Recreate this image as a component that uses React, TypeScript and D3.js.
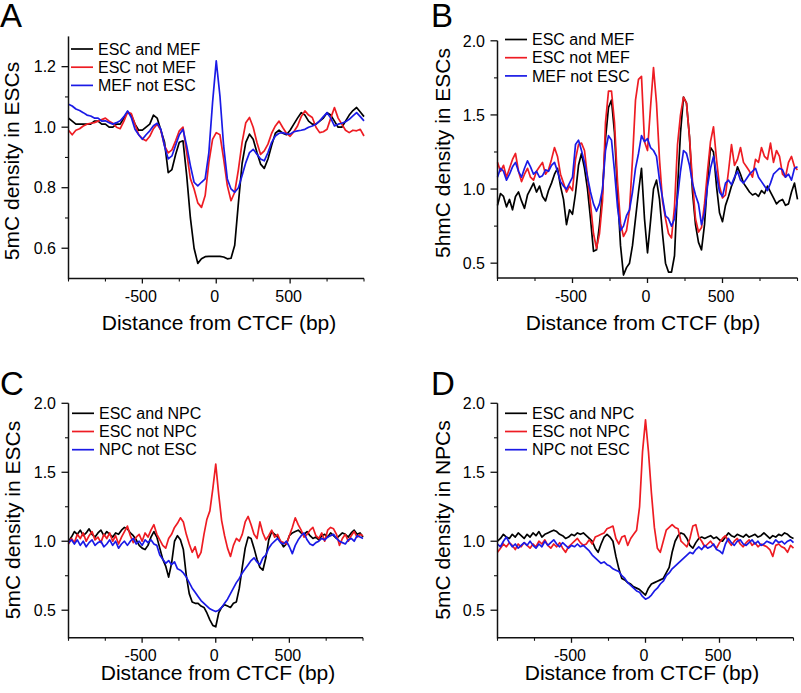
import React from "react";
import * as d3 from "d3";

// ---------- DATA ----------
const bpA = d3.range(-1000, 1001, 25);
const bpBCD = d3.range(-1000, 1001, 20);

const xMajorTicks = [-500, 0, 500];
const xMinorTicks = [-1000, -750, -250, 250, 750, 1000];

const legendMEF = ["ESC and MEF", "ESC not MEF", "MEF not ESC"];
const legendNPC = ["ESC and NPC", "ESC not NPC", "NPC not ESC"];

// Panel A: 5mC density in ESCs (ESC vs MEF)
const aBoth = [
  1.03, 1.02, 1.01, 1.01, 1.01, 1.01, 1.01, 1.02, 1.02, 1.01, 1.01, 1.0, 1.0, 1.01, 1.01, 1.03, 1.05, 1.04, 1.01, 0.99,
  0.99, 1.0, 1.01, 1.04, 1.03, 0.99, 0.95, 0.85, 0.86, 0.91, 0.95, 0.955, 0.84, 0.7, 0.6, 0.55, 0.565, 0.572, 0.573, 0.573,
  0.573, 0.573, 0.571, 0.565, 0.567, 0.61, 0.75, 0.88, 0.95, 0.977, 0.96, 0.917, 0.878, 0.864, 0.895, 0.94, 0.98, 0.99, 0.98, 0.975,
  0.99, 1.01, 1.03, 1.048, 1.04, 1.02, 1.01, 1.01, 1.02, 1.03, 1.048, 1.04, 1.02, 1.0, 1.0, 1.02, 1.04, 1.055, 1.065, 1.05,
  1.035,
];
const aEscOnly = [
  0.99, 0.975, 0.99, 0.995, 1.004, 1.01, 1.013, 1.015, 1.02, 1.025, 1.03, 1.02, 1.013, 1.0, 0.995, 1.02, 1.05, 1.045, 1.01, 0.975,
  0.962, 0.955, 0.97, 0.995, 1.01, 0.99, 0.938, 0.915, 0.925, 0.955, 0.988, 1.0, 0.916, 0.83, 0.796, 0.75, 0.735, 0.774, 0.884, 0.96,
  0.982, 0.975, 0.895, 0.807, 0.757, 0.785, 0.86, 0.95, 1.015, 1.032, 1.0, 0.95, 0.91, 0.922, 0.944, 0.98, 1.004, 1.02, 0.999, 0.98,
  0.97, 0.985, 1.004, 1.035, 1.054, 1.04, 1.032, 1.0, 0.982, 0.985, 0.993, 1.03, 1.065, 1.03, 1.01, 0.99, 0.982, 0.99, 0.988, 0.993,
  0.971,
];
const aMefOnly = [
  1.076, 1.07, 1.06, 1.055, 1.048, 1.04, 1.037, 1.03, 1.03, 1.02, 1.021, 1.015, 1.01, 1.015, 1.021, 1.035, 1.054, 1.032, 0.993, 0.975,
  0.96, 0.975, 0.988, 1.005, 1.013, 0.993, 0.938, 0.895, 0.905, 0.94, 0.975, 0.993, 0.938, 0.873, 0.818, 0.806, 0.818, 0.829, 0.916, 1.081,
  1.219, 1.103, 0.938, 0.829, 0.796, 0.785, 0.8, 0.84, 0.883, 0.916, 0.927, 0.911, 0.895, 0.889, 0.916, 0.95, 0.971, 0.98, 0.982, 0.978,
  0.977, 0.985, 0.988, 0.99, 0.993, 1.0, 1.004, 1.01, 1.021, 1.035, 1.048, 1.03, 1.004, 1.01, 1.013, 1.018, 1.026, 1.037, 1.048, 1.035,
  1.021,
];

// Panel B: 5hmC density in ESCs (ESC vs MEF)
const bBoth = [
  0.89, 0.97, 0.95, 0.88, 0.93, 0.86, 0.95, 0.98, 0.92, 0.87, 0.96, 1.0, 1.04, 0.98, 1.02, 0.95, 0.92, 0.99, 1.04, 1.1,
  1.14, 1.02, 0.93, 0.76, 0.86, 0.83, 0.97, 1.16, 1.24, 1.14, 1.0, 0.8, 0.58, 0.59, 0.76, 0.98, 1.34, 1.55, 1.6, 1.38,
  0.98, 0.62, 0.42, 0.47, 0.5, 0.62, 0.8, 0.98, 1.14, 0.8, 0.57, 0.78, 1.0, 1.06, 0.93, 0.7, 0.5, 0.44, 0.44, 0.55,
  1.0, 1.38, 1.62, 1.58, 1.35, 0.98, 0.76, 0.64, 0.59, 0.76, 1.05, 1.28, 1.25, 1.02, 0.84, 0.78, 0.89, 0.95, 1.02, 1.07,
  1.15, 1.1, 1.04, 1.01, 0.98, 0.96, 0.97, 0.95, 0.99, 0.97, 1.02, 0.98, 0.94, 0.9, 0.92, 0.93, 0.89, 0.9, 0.98, 1.04,
  0.93,
];
const bEscOnly = [
  1.18, 1.12, 1.16, 1.08, 1.14, 1.2, 1.24, 1.12, 1.05, 1.1, 1.14, 1.08, 1.06, 1.12, 1.15, 1.18, 1.1, 1.13, 1.2, 1.28,
  1.22, 1.1, 1.04, 0.98, 1.02, 0.99, 1.2, 1.3, 1.31, 1.26, 1.08, 0.9, 0.7, 0.6, 0.7, 0.92, 1.45, 1.66, 1.66, 1.45,
  1.05, 0.77, 0.68, 0.72, 0.86, 1.2, 1.6, 1.74, 1.76, 1.32, 1.26, 1.55, 1.82, 1.58, 1.2, 0.92, 0.8, 0.7, 0.67, 0.88,
  1.3, 1.5, 1.62, 1.58, 1.35, 1.05, 0.8, 0.71, 0.74, 0.9, 1.12, 1.32, 1.42, 1.2, 1.02, 0.94, 0.96, 1.12, 1.3, 1.16,
  1.2, 1.28, 1.18, 1.15, 1.12, 1.08, 1.2, 1.18, 1.28, 1.22, 1.2, 1.31, 1.18, 1.26, 1.22, 1.1, 1.08, 1.18, 1.22, 1.15,
  1.13,
];
const bMefOnly = [
  1.08, 1.14, 1.12, 1.06, 1.1, 1.15, 1.18, 1.12, 1.08, 1.14, 1.19, 1.15, 1.1, 1.12, 1.08, 1.09, 1.13, 1.12, 1.16, 1.18,
  1.12, 1.05, 1.02, 1.0, 1.04, 1.08, 1.3, 1.33, 1.26, 1.18, 1.08, 0.98, 0.9, 0.85, 0.9, 1.0, 1.26, 1.36, 1.33, 1.12,
  0.88, 0.72, 0.75, 0.82, 0.86, 0.98, 1.14, 1.24, 1.36, 1.32, 1.34, 1.28, 1.26, 1.22, 1.06, 0.94, 0.82, 0.8, 0.75, 0.8,
  0.94, 1.12, 1.26, 1.24, 1.16, 1.04, 0.96, 0.9, 0.76, 0.84, 1.02, 1.14, 1.22, 1.1, 0.98, 0.95, 1.04, 1.06, 1.03, 1.08,
  1.12, 1.06, 1.04, 1.07, 1.1, 1.12, 1.14, 1.08, 1.05, 1.02, 0.99, 1.04, 1.1, 1.12, 1.14, 1.13, 1.08, 1.1, 1.06, 1.14,
  1.15,
];

// Panel C: 5mC density in ESCs (ESC vs NPC)
const cBoth = [
  1.0, 1.03, 1.07, 1.05, 1.08, 1.04, 1.06, 1.09, 1.05, 1.03, 1.06, 1.08, 1.04, 1.07, 1.05, 1.03, 1.06, 1.05, 1.08, 1.1,
  1.09, 1.06, 1.04, 1.01, 0.97, 0.95, 0.94, 0.97, 1.03, 1.07, 1.03, 0.95, 0.87, 0.82, 0.74, 0.84, 1.0, 1.04, 1.01, 0.94,
  0.75, 0.62, 0.56, 0.55, 0.55, 0.53, 0.52, 0.48, 0.43, 0.39, 0.38, 0.48, 0.52, 0.54, 0.53, 0.52, 0.55, 0.56, 0.66, 0.81,
  0.95, 1.03, 1.02, 0.95, 0.87, 0.81, 0.79, 0.88, 1.01, 1.07, 1.05, 1.03, 1.0, 0.96, 0.98, 1.04, 1.06, 1.07, 1.08, 1.06,
  1.05, 1.07, 1.04, 1.02, 1.03, 1.01, 1.04, 1.05, 1.03, 1.06, 1.04, 1.02, 1.04, 1.06, 1.05, 1.03, 1.06, 1.08, 1.05, 1.06,
  1.03,
];
const cEscOnly = [
  0.98, 1.02, 0.99, 1.05, 1.02, 1.06, 1.0, 1.04, 1.07, 1.01, 1.03, 0.99, 1.05, 1.02, 1.06, 1.0, 1.04, 0.98, 1.03, 1.07,
  1.11, 1.04, 0.99, 1.03, 1.05, 1.0, 1.06, 1.03, 1.08, 1.12, 1.05, 1.01, 0.97, 0.95, 1.02, 1.05, 1.1, 1.13, 1.17, 1.14,
  1.05, 0.98, 0.92, 0.96, 0.88, 0.92, 1.05, 1.16, 1.22, 1.38, 1.56, 1.34, 1.15, 1.04, 0.95, 0.89, 0.97, 1.02, 1.0, 1.05,
  1.14, 1.18, 1.12, 1.05, 1.02, 1.14, 1.06, 1.01, 1.04, 1.08, 1.03, 1.05, 1.0, 0.99, 0.98, 1.04, 1.1, 1.17, 1.12, 1.08,
  1.03, 1.05, 1.08, 1.1, 1.04, 1.02, 1.06, 1.0, 1.08, 1.1, 1.09, 1.05, 0.97, 1.02, 1.05, 1.0, 1.04, 1.07, 1.03, 1.05,
  1.04,
];
const cNpcOnly = [
  0.99, 1.01, 0.98, 1.01, 0.97, 1.0, 0.96, 0.99, 1.01, 0.97, 0.99, 1.0, 0.96, 0.98, 1.01, 0.97, 1.0, 0.95, 0.98, 1.0,
  0.97, 1.0, 1.02, 0.98, 1.0, 0.97, 1.01, 0.99, 1.01, 0.98, 0.97, 0.9, 0.87, 0.84, 0.86, 0.83, 0.85, 0.8, 0.79, 0.77,
  0.74, 0.7, 0.66, 0.63, 0.6, 0.57, 0.55, 0.53, 0.51, 0.5, 0.49, 0.5, 0.52, 0.55, 0.58, 0.62, 0.66, 0.7, 0.73, 0.77,
  0.8, 0.83, 0.86, 0.88, 0.85, 0.83, 0.88, 0.9, 0.95, 0.98, 1.0, 1.02, 0.99, 0.98, 1.0, 0.96, 0.91, 0.97, 1.01, 1.04,
  1.06, 1.01, 0.98, 0.97, 0.99, 1.0, 1.02, 1.01, 1.03, 1.04, 1.05, 1.02, 1.0, 0.99, 0.98, 1.01, 1.02, 1.0, 1.04, 1.03,
  1.02,
];

// Panel D: 5mC density in NPCs (ESC vs NPC)
const dBoth = [
  1.0, 1.02, 1.05, 1.03, 1.02, 1.05, 1.03, 1.06, 1.04, 1.02, 1.05, 1.03, 1.06, 1.04, 1.07, 1.03, 1.05, 1.06, 1.07, 1.08,
  1.07, 1.05, 1.04, 1.02, 1.03, 1.05, 1.04, 1.06, 1.05, 1.06, 1.04, 1.02, 1.0, 0.95, 0.92, 0.98, 1.03, 1.05, 1.03, 1.0,
  0.89, 0.8, 0.73, 0.72, 0.7, 0.69, 0.67, 0.66, 0.65, 0.63, 0.61, 0.66, 0.69, 0.7, 0.71, 0.72, 0.73, 0.77, 0.81, 0.92,
  1.0, 1.04, 1.06, 1.05, 1.02, 0.97, 0.95, 0.99, 1.02, 1.03, 1.02, 1.03, 1.04, 1.02, 1.03, 1.01, 1.0, 1.03, 1.06, 1.04,
  1.03, 1.05, 1.04, 1.03, 1.05, 1.03, 1.04, 1.05, 1.03, 1.04, 1.06, 1.04, 1.02, 1.04, 1.03, 1.05, 1.04, 1.06, 1.05, 1.03,
  1.02,
];
const dEscOnly = [
  0.92, 0.95, 0.98, 0.96, 0.99, 0.97, 0.94, 0.98, 0.96, 0.99, 0.97, 0.95, 0.98, 0.96, 1.0, 0.98, 1.01, 0.97, 0.95, 0.98,
  0.96, 0.99, 0.95, 0.92, 0.96, 0.98, 1.0, 1.02, 0.99, 0.97, 0.98, 1.01, 0.98, 1.03, 1.04, 1.05, 1.06, 1.09, 1.1, 1.11,
  1.02, 0.98, 1.03, 1.04, 0.97, 1.02, 1.05, 1.08, 1.25, 1.65, 1.88, 1.65, 1.35, 1.1, 0.95, 0.92, 1.0, 1.08, 1.1, 1.12,
  1.1, 1.09, 1.0, 0.98, 0.96, 1.02, 1.11, 1.12, 1.03, 1.0, 0.96, 0.98, 1.0, 0.97, 0.95, 0.99, 1.02, 1.04, 1.0, 0.97,
  1.0, 1.02, 0.98, 0.96, 0.99, 1.01, 0.97, 0.99, 0.96, 0.98, 0.97, 0.96, 0.94, 0.89, 0.97, 0.98, 0.96, 0.95, 0.92, 0.97,
  0.95,
];
const dNpcOnly = [
  0.98, 0.96, 1.0, 1.03, 0.99, 0.96, 0.98, 0.95, 0.97, 0.99, 0.97, 1.0, 0.97, 0.95, 0.98, 0.96, 1.0, 0.97, 0.99, 1.01,
  0.98, 0.96, 0.99, 0.97, 0.95, 0.97, 0.96, 0.98, 0.96, 0.97, 0.95, 0.93, 0.9, 0.88, 0.86, 0.84, 0.85, 0.83, 0.82, 0.8,
  0.79, 0.78, 0.75, 0.73, 0.7, 0.68, 0.66, 0.64, 0.63, 0.6, 0.58, 0.59, 0.61, 0.64, 0.66, 0.69, 0.71, 0.75, 0.77, 0.8,
  0.82, 0.84, 0.86, 0.88, 0.9, 0.92, 0.91, 0.94, 0.96, 0.94, 0.97, 0.95, 0.96, 0.98, 0.94, 0.93, 0.91, 0.98, 1.02, 0.99,
  0.97, 1.0, 1.01, 0.98, 0.97, 0.99, 1.01, 0.98, 1.0, 0.97, 0.98, 1.0, 0.99, 0.98, 1.01, 0.99, 1.0, 0.98, 1.0, 1.01,
  0.99,
];

// ---------- LAYOUT / STYLE ----------
const FONT = "'Liberation Sans', Arial, Helvetica, sans-serif";
const COLORS = ["#000000", "#ee1c23", "#1a1ae6"];

type PanelDef = {
  letter: string;
  letterX: number;
  letterY: number;
  bp: number[];
  series: number[][];
  legend: string[];
  yDomain: [number, number];
  yMajor: number[];
  yMinor: number[];
  yLabel: string;
  left: number;
  right: number;
  top: number;
  bottom: number;
  yLabelX: number;
  yLabelY: number;
  xLabelX: number;
  xLabelY: number;
  legX: number;
  legY: number;
};

const panels: PanelDef[] = [
  {
    letter: "A", letterX: 0, letterY: 27,
    bp: bpA, series: [aBoth, aEscOnly, aMefOnly], legend: legendMEF,
    yDomain: [0.5, 1.3], yMajor: [0.6, 0.8, 1.0, 1.2], yMinor: [0.7, 0.9, 1.1],
    yLabel: "5mC density in ESCs",
    left: 68.5, right: 364, top: 36.4, bottom: 278.5,
    yLabelX: 19, yLabelY: 161, xLabelX: 219, xLabelY: 330,
    legX: 71, legY: 49,
  },
  {
    letter: "B", letterX: 431, letterY: 27,
    bp: bpBCD, series: [bBoth, bEscOnly, bMefOnly], legend: legendMEF,
    yDomain: [0.4, 2.0], yMajor: [0.5, 1.0, 1.5, 2.0], yMinor: [0.75, 1.25, 1.75],
    yLabel: "5hmC density in ESCs",
    left: 497.5, right: 797.5, top: 40.8, bottom: 278,
    yLabelX: 450, yLabelY: 153, xLabelX: 643, xLabelY: 330,
    legX: 505, legY: 39.5,
  },
  {
    letter: "C", letterX: 0, letterY: 395,
    bp: bpBCD, series: [cBoth, cEscOnly, cNpcOnly], legend: legendNPC,
    yDomain: [0.3, 2.0], yMajor: [0.5, 1.0, 1.5, 2.0], yMinor: [0.75, 1.25, 1.75],
    yLabel: "5mC density in ESCs",
    left: 68.5, right: 363, top: 403.3, bottom: 637.8,
    yLabelX: 19.5, yLabelY: 520, xLabelX: 218, xLabelY: 680,
    legX: 72, legY: 413.3,
  },
  {
    letter: "D", letterX: 431, letterY: 395,
    bp: bpBCD, series: [dBoth, dEscOnly, dNpcOnly], legend: legendNPC,
    yDomain: [0.3, 2.0], yMajor: [0.5, 1.0, 1.5, 2.0], yMinor: [0.75, 1.25, 1.75],
    yLabel: "5mC density in NPCs",
    left: 497.5, right: 793.5, top: 403.3, bottom: 637.8,
    yLabelX: 450, yLabelY: 520, xLabelX: 642, xLabelY: 680,
    legX: 505, legY: 413.3,
  },
];

function Panel({ p }: { p: PanelDef }) {
  const x = d3.scaleLinear().domain([-1000, 1000]).range([p.left, p.right]);
  const y = d3.scaleLinear().domain(p.yDomain).range([p.bottom, p.top]);
  const fmt = d3.format(".1f");
  const makeLine = (vals: number[]) =>
    d3
      .line<number>()
      .x((_, i) => x(p.bp[i]))
      .y((d) => y(d))(vals) || "";
  const axisColor = "#111";
  return (
    <g>
      <text x={p.letterX} y={p.letterY} fontSize={33} fontFamily={FONT} fill="#000">
        {p.letter}
      </text>
      {/* data lines */}
      {p.series.map((s, i) => (
        <path key={i} d={makeLine(s)} fill="none" stroke={COLORS[i]} strokeWidth={1.7} strokeLinejoin="round" />
      ))}
      {/* axes */}
      <line x1={p.left} x2={p.left} y1={y(p.yDomain[1])} y2={p.bottom + 0.75} stroke={axisColor} strokeWidth={1.5} />
      <line x1={p.left} x2={p.right} y1={p.bottom} y2={p.bottom} stroke={axisColor} strokeWidth={1.5} />
      {p.yMajor.map((v) => (
        <g key={"ym" + v}>
          <line x1={p.left - 7} x2={p.left} y1={y(v)} y2={y(v)} stroke={axisColor} strokeWidth={1.3} />
          <text x={p.left - 12.5} y={y(v)} dy="0.36em" textAnchor="end" fontSize={16} fontFamily={FONT} fill="#000">
            {fmt(v)}
          </text>
        </g>
      ))}
      {p.yMinor.map((v) => (
        <line key={"yn" + v} x1={p.left - 3.5} x2={p.left} y1={y(v)} y2={y(v)} stroke={axisColor} strokeWidth={1.1} />
      ))}
      {xMajorTicks.map((v) => (
        <g key={"xm" + v}>
          <line x1={x(v)} x2={x(v)} y1={p.bottom} y2={p.bottom + 5} stroke={axisColor} strokeWidth={1.3} />
          <text x={x(v) - 1.5} y={p.bottom + 23.5} textAnchor="middle" fontSize={16} fontFamily={FONT} fill="#000">
            {String(v)}
          </text>
        </g>
      ))}
      {xMinorTicks.map((v) => (
        <line key={"xn" + v} x1={x(v)} x2={x(v)} y1={p.bottom} y2={p.bottom + 3} stroke={axisColor} strokeWidth={1.1} />
      ))}
      {/* axis titles */}
      <text
        transform={`translate(${p.yLabelX},${p.yLabelY}) rotate(-90)`}
        textAnchor="middle"
        fontSize={21}
        fontFamily={FONT}
        fill="#000"
      >
        {p.yLabel}
      </text>
      <text x={p.xLabelX} y={p.xLabelY} textAnchor="middle" fontSize={21} fontFamily={FONT} fill="#000">
        Distance from CTCF (bp)
      </text>
      {/* legend */}
      {p.legend.map((name, i) => (
        <g key={name}>
          <line
            x1={p.legX}
            x2={p.legX + 22}
            y1={p.legY + i * 18.2}
            y2={p.legY + i * 18.2}
            stroke={COLORS[i]}
            strokeWidth={1.7}
          />
          <text x={p.legX + 27} y={p.legY + i * 18.2} dy="0.36em" fontSize={16} fontFamily={FONT} fill="#000">
            {name}
          </text>
        </g>
      ))}
    </g>
  );
}

export default function App() {
  return (
    <svg
      width={801}
      height={693}
      viewBox="0 0 801 693"
      style={{ position: "absolute", left: 0, top: 0, background: "#fff", display: "block" }}
    >
      <rect x={0} y={0} width={801} height={693} fill="#fff" />
      {panels.map((p) => (
        <Panel key={p.letter} p={p} />
      ))}
    </svg>
  );
}
